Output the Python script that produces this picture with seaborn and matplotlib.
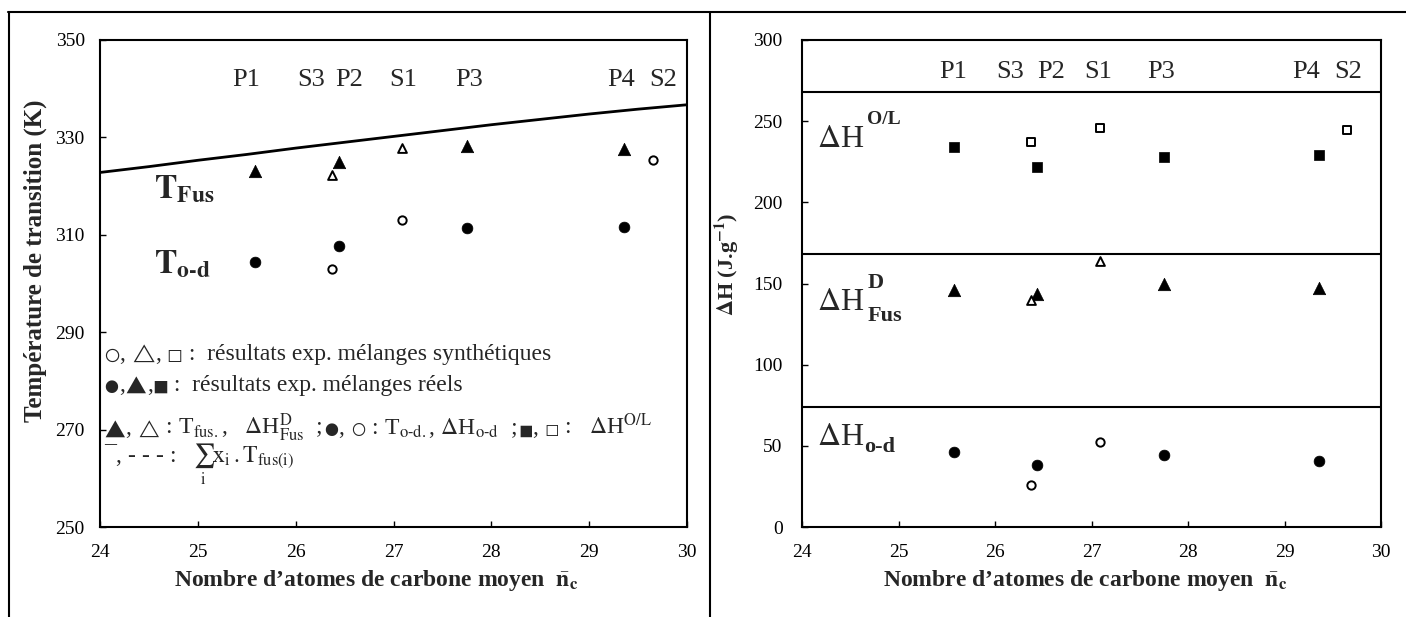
import numpy as np
import pandas as pd
import seaborn as sns
import matplotlib.pyplot as plt
from matplotlib.lines import Line2D

# values
real_nc = [25.58, 26.44, 27.75, 29.36]        # P1 P2 P3 P4
synth_nc = [26.37, 27.09]                      # S3 S1
s2_nc = 29.65                                  # S2

# left panel, K
t_fus_real = [323.2, 325.0, 328.2, 327.6]
t_fus_synth = [322.3, 327.8]
t_od_real = [304.4, 307.7, 311.3, 311.7]
t_od_synth = [303.0, 313.0]
t_s2 = 325.3

sum_nc = [24, 24.5, 25, 25.5, 26, 26.5, 27, 27.5, 28, 28.5, 29, 29.5, 30]
sum_tfus = [322.8, 324.0, 325.3, 326.5, 327.8, 329.0, 330.2, 331.4, 332.6, 333.7, 334.8, 335.8, 336.7]

# right panel, J/g
dh_ol_real = [234.0, 221.8, 227.9, 229.0]
dh_ol_synth = [237.3, 245.9]
dh_ol_s2 = 244.5
dh_fus_real = [146.3, 143.8, 150.0, 147.3]
dh_fus_synth = [139.8, 163.9]
dh_od_real = [46.5, 38.1, 44.2, 40.8]
dh_od_synth = [26.1, 52.6]
separators = [268, 168, 74]

names = ['P1', 'S3', 'P2', 'S1', 'P3', 'P4', 'S2']
names_x_left = [25.49, 26.16, 26.55, 27.10, 27.77, 29.33, 29.76]
names_x_right = [25.57, 26.16, 26.58, 27.07, 27.72, 29.22, 29.66]

sns.set_style('white')
plt.rcParams['font.family'] = ['Liberation Serif', 'DejaVu Sans']
plt.rcParams['mathtext.fontset'] = 'stix'

W, H = 1406, 617
fig = plt.figure(figsize=(W / 100, H / 100), dpi=100)
axl = fig.add_axes([100 / W, (H - 527) / H, 587 / W, 487 / H])
axr = fig.add_axes([802 / W, (H - 527) / H, 579 / W, 487 / H])

# figure frame
fig.add_artist(Line2D([8 / W, 1], [(H - 12) / H] * 2, color='black', lw=1.5))
fig.add_artist(Line2D([9 / W] * 2, [0, (H - 12) / H], color='black', lw=1.5))
fig.add_artist(Line2D([710 / W] * 2, [0, (H - 12) / H], color='black', lw=1.5))


def dots(ax, x, y, marker, filled, s):
    if filled:
        sns.scatterplot(x=x, y=y, ax=ax, marker=marker, s=s, color='black',
                        edgecolor='black', linewidth=0.5, zorder=3)
    else:
        sns.scatterplot(x=x, y=y, ax=ax, marker=marker, s=s, facecolor='white',
                        edgecolor='black', linewidth=1.4, zorder=3)


# ---- left panel
sns.lineplot(x=sum_nc, y=sum_tfus, ax=axl, color='black', lw=2)
dots(axl, real_nc, t_fus_real, '^', True, 80)
dots(axl, synth_nc, t_fus_synth, '^', False, 40)
dots(axl, real_nc, t_od_real, 'o', True, 60)
dots(axl, synth_nc, t_od_synth, 'o', False, 36)
dots(axl, [s2_nc], [t_s2], 'o', False, 36)

axl.set_xlim(24, 30)
axl.set_ylim(250, 350)
axl.set_yticks(np.arange(250, 351, 20))
axl.set_xticks(np.arange(24, 31, 1))

for n, xx in zip(names, names_x_left):
    axl.text(xx, 341.8, n, ha='center', va='center', fontsize=19)

axl.text(24.55, 317.5, r'$\mathbf{T}_{\mathbf{Fus}}$', fontsize=24, va='baseline')
axl.text(24.55, 302.0, r'$\mathbf{T}_{\mathbf{o‐d}}$', fontsize=24, va='baseline')

# legend written as text, symbols a bit smaller than the words
TXT = 17
leg_lines = [
    (284.3, [('$○$', 13), (', ', TXT), ('$△$', 14), (', ', TXT), ('$□$', 11),
             (' :  résultats exp. mélanges synthétiques', TXT)]),
    (278.0, [('$●$', 12), (',', TXT), ('$▲$', 13), (',', TXT), ('$■$', 11),
             (' :  résultats exp. mélanges réels', TXT)]),
    (269.0, [('$▲$', 13), (', ', TXT), ('$△$', 13),
             (r' : T$_{\mathrm{fus.}}$,   $\Delta$H$^{\mathrm{D}}_{\mathrm{Fus}}$  ; ', TXT),
             ('$●$', 12), (', ', TXT), ('$○$', 12),
             (r' : T$_{\mathrm{o‐d.}}$, $\Delta$H$_{\mathrm{o‐d}}$  ; ', TXT),
             ('$■$', 10), (', ', TXT), ('$□$', 10),
             (r' :   $\Delta$H$^{\mathrm{O/L}}$', TXT)]),
    (263.2, [(r'¯, - - - :   $\sum_{\mathrm{i}}\mathrm{x_i\,.T_{fus(i)}}$', TXT)]),
]
renderer = fig.canvas.get_renderer()
for yy, pieces in leg_lines:
    xx = 24.04
    for txt, fs in pieces:
        t = axl.text(xx, yy, txt, fontsize=fs, va='baseline')
        bb = t.get_window_extent(renderer)
        xx = axl.transData.inverted().transform((bb.x1, bb.y0))[0]

axl.set_ylabel('Température de transition (K)', fontsize=18, fontweight='bold')
axl.yaxis.set_label_coords(-0.09, 0.546)

# ---- right panel
for yy in separators:
    axr.axhline(yy, color='black', lw=1.5)
dots(axr, real_nc, dh_ol_real, 's', True, 60)
dots(axr, synth_nc, dh_ol_synth, 's', False, 34)
dots(axr, [s2_nc], [dh_ol_s2], 's', False, 34)
dots(axr, real_nc, dh_fus_real, '^', True, 80)
dots(axr, synth_nc, dh_fus_synth, '^', False, 40)
dots(axr, real_nc, dh_od_real, 'o', True, 60)
dots(axr, synth_nc, dh_od_synth, 'o', False, 36)

axr.set_xlim(24, 30)
axr.set_ylim(0, 300)
axr.set_yticks(np.arange(0, 301, 50))
axr.set_xticks(np.arange(24, 31, 1))

for n, xx in zip(names, names_x_right):
    axr.text(xx, 280.4, n, ha='center', va='center', fontsize=19)

for yy in (233.9, 133.4, 50.8):
    axr.text(24.16, yy, r'$\Delta$H', fontsize=23, va='baseline')
axr.text(24.67, 248.5, 'O/L', fontsize=14, fontweight='bold', va='baseline')
axr.text(24.68, 147.0, 'D', fontsize=16, fontweight='bold', va='baseline')
axr.text(24.68, 126.7, 'Fus', fontsize=16, fontweight='bold', va='baseline')
axr.text(24.64, 46.5, 'o-d', fontsize=16, fontweight='bold', va='baseline')

axr.set_ylabel(r'$\mathbf{\Delta}$H (J.g$^{\mathbf{-1}}$)', fontsize=16, fontweight='bold')
axr.yaxis.set_label_coords(-0.105, 0.54)

xlab = r'Nombre d’atomes de carbone moyen  $\bar{\mathbf{n}}_{\mathbf{c}}$'
for ax, xc in ((axl, 0.47), (axr, 0.49)):
    ax.set_xlabel(xlab, fontsize=17, fontweight='bold')
    ax.xaxis.set_label_coords(xc, -0.085)
    for sp in ax.spines.values():
        sp.set_linewidth(1.5)
        sp.set_color('black')
    ax.tick_params(axis='both', direction='in', length=4, width=1, labelsize=14,
                   left=True, bottom=True, top=False, right=False, colors='black')
    ax.tick_params(axis='x', pad=12)
axl.tick_params(axis='y', pad=11)
axr.tick_params(axis='y', pad=14)

fig.savefig('out.png', dpi=100)
